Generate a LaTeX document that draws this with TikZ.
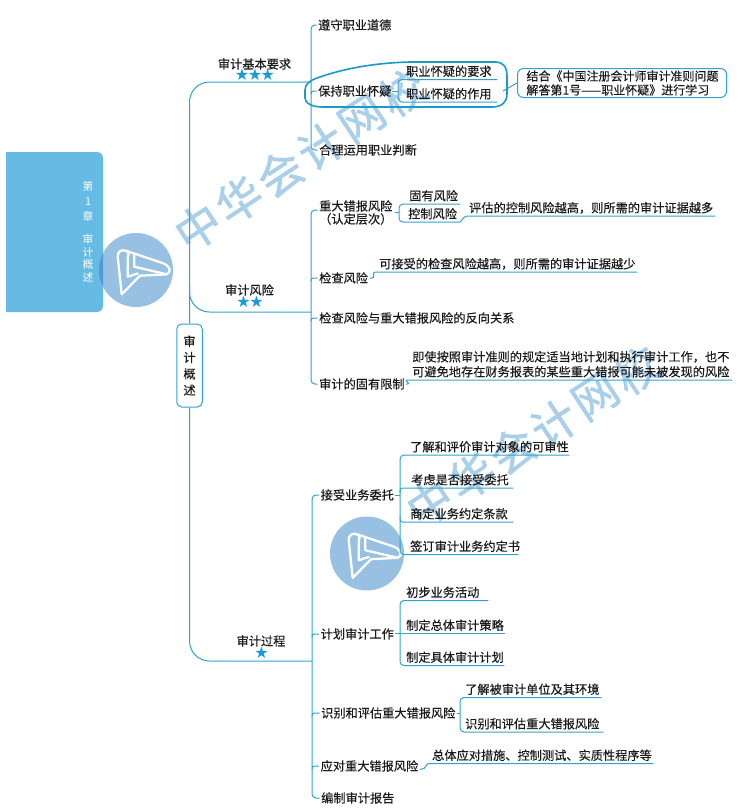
\documentclass[tikz,border=0pt]{standalone}
\usepackage{fontspec}
\newfontfamily\cjk{Noto Sans CJK SC}[FakeBold=0.25]
\newfontfamily\cjkr{Noto Sans CJK SC}
\newfontfamily\cjkw{Noto Sans CJK SC}[FakeBold=1.2]
\newfontfamily\dejavu{DejaVu Sans}
\definecolor{lnc}{HTML}{2FA3D0}
\definecolor{hlc}{HTML}{1B9AC8}
\definecolor{rootc}{HTML}{66BBE4}
\definecolor{wmc}{HTML}{A9CFEB}
\definecolor{logoc}{HTML}{97C0E2}
\definecolor{logod}{HTML}{4F9AD3}
\definecolor{starc}{HTML}{1A9BD7}
\definecolor{txtc}{HTML}{1A1A1A}
\tikzset{
  ln/.style={draw=lnc,line width=1pt},
  hk/.style={ln,rounded corners=2.5pt},
  br/.style={ln,rounded corners=4pt},
  lab/.style={inner sep=0pt,font=\cjk\fontsize{12.2}{13}\selectfont,text=txtc,text height=10.6pt,text depth=1.4pt},
  plain/.style={lab,anchor=west},
  ulab/.style={inner sep=0pt,font=\cjk\fontsize{12.2}{15}\selectfont,text=txtc,text height=9pt,text depth=3.4pt,anchor=south west,align=left},
  branch/.style={lab,anchor=center},
  stars/.style={inner sep=0pt,font=\dejavu\fontsize{16}{16}\selectfont,text=starc,anchor=center},
  wm/.style={inner sep=0pt,font=\cjkw\fontsize{45}{45}\selectfont,text=wmc,rotate=33.4,anchor=center},
  logo/.style={draw=white,line width=2.3pt,line join=round},
}
\newcommand{\uln}[5]{\node[ulab,text width={(#4-#2)*1pt}] (#1) at (#2,#3) {#5};}
\newcommand{\ticknode}[2]{\draw[hk] ([yshift=-3pt]#1 |- #2.west) -- (#1 |- #2.west) -- ([xshift=-1.5pt]#2.west);}
\newcommand{\logomark}[1]{%
  \begin{scope}[shift={(#1)}]
    \draw[logo] (-14.3,24.3) -- (-18.3,-13.3) .. controls (-18.5,-19) and (-14,-21) .. (-9.3,-19) -- (27.3,-6.7) .. controls (34,-4) and (36,2) .. (30.7,4.3) -- (4,5.7) -- cycle;
    \draw[logo] (-9.3,-19) .. controls (-6,-16) and (-8.3,-14) .. (-8.3,-11.7) -- (-8.3,6.7) -- (2.3,3.3);
    \draw[logo] (-1.7,-16.7) -- (-1.7,-3.3) -- (30.7,4.3);
  \end{scope}}
\begin{document}
\begin{tikzpicture}[x=1pt,y=-1pt]
\useasboundingbox (0,0) rectangle (750,812);
\fill[white] (0,0) rectangle (750,812);
% root panel
\fill[rootc] (6,152) -- (97,152) .. controls (100.3,152) and (103,154.7) .. (103,158) -- (103,306) .. controls (103,309.3) and (100.3,312) .. (97,312) -- (6,312) -- cycle;
% logos and watermarks
\fill[logoc] (136,270) circle (37);
\begin{scope}
  \clip (6,152) rectangle (103,312);
  \fill[logod] (136,270) circle (37);
\end{scope}
\logomark{136,270}
\fill[logoc] (367,553.5) circle (37);
\logomark{367,553.5}
\foreach \i/\c in {0/中,1/华,2/会,3/计,4/网,5/校}{
  \node[wm] (wa\i) at ({198+\i*41},{227-\i*27}) {\c};
  \node[wm] (wb\i) at ({430+\i*41.4},{503-\i*26.6}) {\c};
}
% root text
\node[inner sep=0pt,font=\cjkr\fontsize{10.8}{12.5}\selectfont,text=white,align=center,anchor=center] (roottext) at (88,231.5) {第\\[2.6pt]1\\[3pt]章\\[10.5pt]审\\计\\概\\述};
% centre
\node[draw=lnc,line width=1pt,rounded corners=5pt,fill=white,minimum width=25.5pt,minimum height=83pt,inner sep=0pt,align=center,font=\cjk\fontsize{12.2}{16.3}\selectfont,text=txtc] (core) at (189.5,365.5) {审\\计\\概\\述};
% branches
\node[branch] (b1) at (254.5,64) {审计基本要求};
\node[stars] (st1) at (255,75) {★\kern-1.5pt★\kern-1.5pt★};
\node[branch] (b2) at (249.5,290) {审计风险};
\node[stars] (st2) at (250,302) {★\kern-1.5pt★};
\node[branch] (b3) at (261,641) {审计过程};
\node[stars] (st3) at (261.5,653) {★};
\coordinate (j1) at (311,82);
\coordinate (j2s) at (189.5,285);
\coordinate (j2) at (311,312);
\coordinate (j3) at (312,661);
\draw[ln,rounded corners=20pt] (core.north) |- (j1);
\draw[ln,rounded corners=20pt] (j2s) |- (j2);
\draw[ln,rounded corners=20pt] (core.south) |- (j3);
% level 2, group 1
\node[plain] (a1) at (318,25) {遵守职业道德};
\node[plain] (a2) at (318,91) {保持职业怀疑};
\node[plain] (a3) at (319,150) {合理运用职业判断};
\draw[br] ([xshift=-1.5pt]a1.west) -- (j1 |- a1.west) -- (j1 |- a3.west) -- ([xshift=-1.5pt]a3.west);
\ticknode{j1}{a2}
% level 2, group 2
\node[lab,anchor=west,align=center,text height=23.6pt,text depth=1.4pt] (c1) at (319,212.5) {重大错报风险\\（认定层次）};
\coordinate (c1h) at (317.5,210);
\node[plain] (c2) at (319,278) {检查风险};
\node[plain] (c3) at (319,318) {检查风险与重大错报风险的反向关系};
\node[plain] (c4) at (319,384) {审计的固有限制};
\draw[br] (c1h) -- (j2 |- c1h) -- (j2 |- c4.west) -- ([xshift=-1.5pt]c4.west);
\ticknode{j2}{c2}
\ticknode{j2}{c3}
% level 2, group 3
\node[plain] (d1) at (320.5,495) {接受业务委托};
\node[plain] (d2) at (320.5,634) {计划审计工作};
\node[plain] (d3) at (321,713) {识别和评估重大错报风险};
\node[plain] (d4) at (320.5,766) {应对重大错报风险};
\node[plain] (d5) at (321,798) {编制审计报告};
\draw[br] ([xshift=-1.5pt]d1.west) -- (j3 |- d1.west) -- (j3 |- d5.west) -- ([xshift=-1.5pt]d5.west);
\ticknode{j3}{d2}
\ticknode{j3}{d3}
\ticknode{j3}{d4}
% professional skepticism
\uln{a21}{406}{79.5}{497}{职业怀疑的要求}
\uln{a22}{406}{102}{497}{职业怀疑的作用}
\coordinate (ba) at (398,91);
\draw[br] (a21.south east) -- (ba |- a21.south) -- (ba |- a22.south) -- (a22.south east);
\draw[ln] (a2.east) -- (ba);
\node[draw=lnc,line width=1pt,rounded corners=6pt,anchor=north west,minimum width=209pt,minimum height=29pt,inner ysep=0pt,inner xsep=9pt,text width=191pt,align=left,font=\cjk\fontsize{12}{14}\selectfont,text=txtc] (note) at (517,68) {结合《中国注册会计师审计准则问题\\解答第1号——职业怀疑》进行学习};
\draw[hlc,line width=1.6pt] (507,76) .. controls (507,67) and (503,62) .. (496,62) -- (410,62) .. controls (370,63) and (340,70) .. (320,77) .. controls (310,80) and (305,84) .. (305,90) -- (305,98) .. controls (305,103) and (312,107) .. (322,107) -- (492,107) .. controls (502,107) and (507,102) .. (507,94) -- cycle;
\coordinate (hl) at (503,91);
\draw[ln,rounded corners=3pt] (hl) -- (note.west);
% risk children
\uln{c11}{409}{204}{460}{固有风险}
\uln{c12}{408}{222}{460}{控制风险}
\coordinate (bc) at (399,212);
\coordinate (c1e) at (395,212);
\draw[br] (c11.south east) -- (bc |- c11.south) -- (bc |- c12.south) -- (c12.south east);
\draw[ln] (c1e) -- (bc);
\uln{c13}{469}{216}{715}{评估的控制风险越高，则所需的审计证据越多}
\coordinate (c13s) at (465,216);
\draw[hk] (c12.south east) -- (c13s) -- (c13.south east);
\uln{c21}{379}{272}{637}{可接受的检查风险越高，则所需的审计证据越少}
\draw[hk] (c2.east) ++(2,0) -- ++(4,0) -- ([xshift=-6pt]c21.south west) -- (c21.south east);
\node[ulab,text width=320pt,text depth=18.4pt] (c41) at (412,380) {即使按照审计准则的规定适当地计划和执行审计工作，也不\\可避免地存在财务报表的某些重大错报可能未被发现的风险};
\draw[hk] (c4.east) ++(1,0) -- ++(4,0) -- ([xshift=-7pt]c41.south west) -- (c41.south east);
% process children
\uln{e1}{410}{455}{569}{了解和评价审计对象的可审性}
\uln{e2}{411}{488}{513}{考虑是否接受委托}
\uln{e3}{410}{522}{513}{商定业务约定条款}
\uln{e4}{410}{554.5}{518}{签订审计业务约定书}
\coordinate (be) at (400,495);
\draw[br] (e1.south east) -- (be |- e1.south) -- (be |- e4.south) -- (e4.south east);
\draw[hk] ([yshift=-5pt]be |- e2.south) -- (be |- e2.south) -- (e2.south east);
\draw[hk] ([yshift=5pt]be |- e3.south) -- (be |- e3.south) -- (e3.south east);
\draw[ln] (d1.east) ++(1,0) -- (be);
\uln{f1}{406}{600.5}{488}{初步业务活动}
\uln{f2}{406}{633.5}{505}{制定总体审计策略}
\uln{f3}{406}{665.5}{504}{制定具体审计计划}
\coordinate (bf) at (400,634);
\draw[br] (f1.south east) -- (bf |- f1.south) -- (bf |- f3.south) -- (f3.south east);
\draw[ln] ([xshift=1pt]d2.east |- f2.south) -- (f2.south east);
\uln{g1}{465}{697.5}{601}{了解被审计单位及其环境}
\uln{g2}{465}{732}{603}{识别和评估重大错报风险}
\coordinate (bg) at (460,713);
\draw[br] (g1.south east) -- (bg |- g1.south) -- (bg |- g2.south) -- (g2.south east);
\draw[ln] ([xshift=1pt]d3.east) -- (bg);
\uln{h1}{432}{763.5}{653}{总体应对措施、控制测试、实质性程序等}
\draw[hk] (d4.east) ++(1,3) -- ++(5,0) -- ([xshift=-5pt]h1.south west) -- (h1.south east);
\end{tikzpicture}
\end{document}
